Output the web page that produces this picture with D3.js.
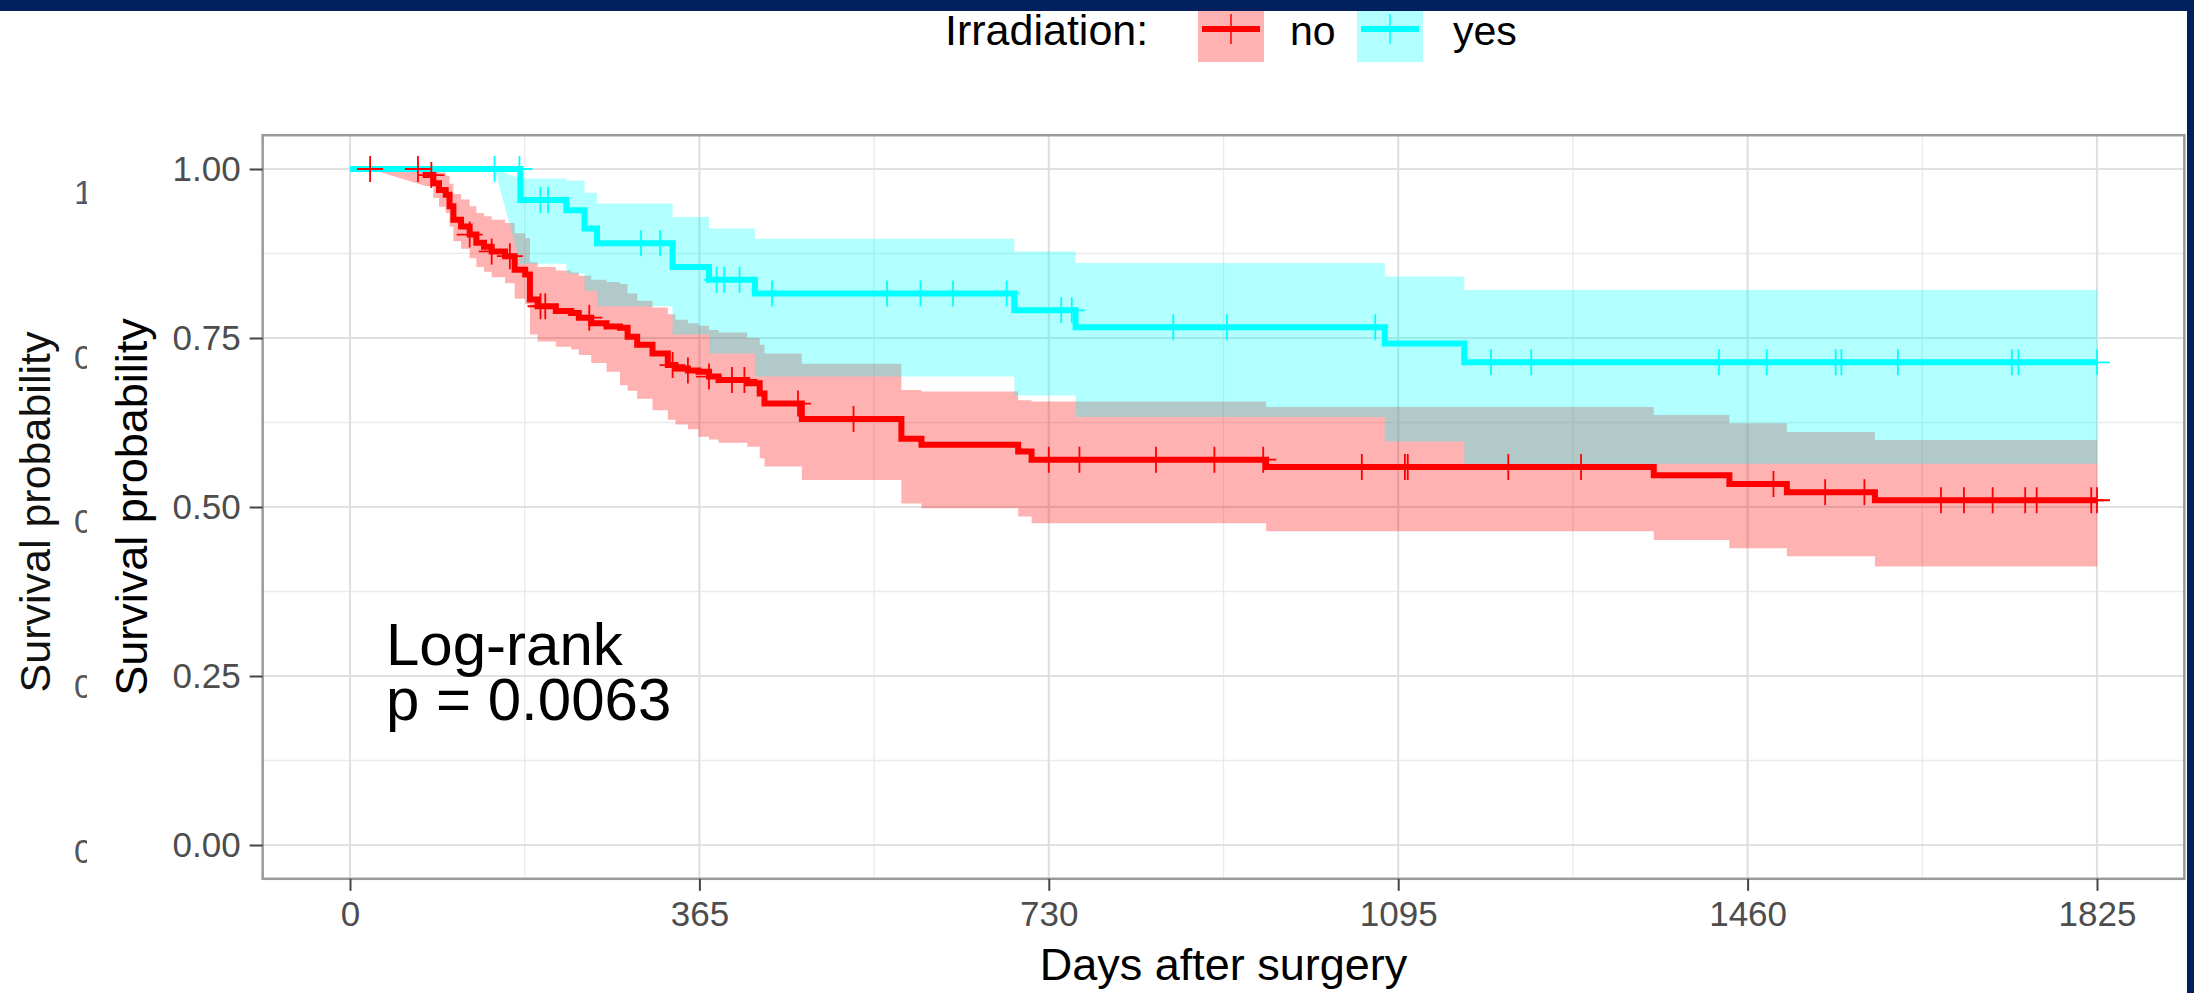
<!DOCTYPE html>
<html>
<head>
<meta charset="utf-8">
<script src="https://cdn.jsdelivr.net/npm/d3@7"></script>
<style>
  body { margin: 0; background: #fff; }
  text { font-family: "Liberation Sans", Arial, sans-serif; }
</style>
</head>
<body>
<svg id="chart" width="2194" height="993"></svg>
<script>
  "use strict";

  // tick values
  var xTicks = [0, 365, 730, 1095, 1460, 1825];
  var yTicks = [0, 0.25, 0.5, 0.75, 1];
  var groups = ["no", "yes"];

  // Irradiation = no : step times, survival, lower / upper 95% CI
  var noTime  = [0, 79, 87, 93, 100, 104, 108, 116, 125, 132, 140, 148, 162, 172, 183, 188, 196, 215, 231, 239, 252, 268, 282, 290, 300, 316, 332, 340, 353, 364, 375, 385, 415, 428, 433, 472, 576, 597, 698, 712, 957, 1362, 1441, 1501, 1593];
  var noSurv  = [1, .991, .979, .969, .962, .945, .925, .915, .903, .891, .885, .878, .871, .851, .844, .807, .797, .790, .787, .780, .772, .767, .765, .752, .740, .727, .710, .705, .702, .700, .693, .688, .683, .668, .653, .630, .601, .592, .582, .570, .559, .547, .534, .522, .510];
  var noLower = [1, .975, .957, .944, .935, .915, .893, .882, .868, .855, .848, .840, .831, .808, .800, .755, .745, .737, .733, .725, .713, .700, .680, .672, .660, .643, .629, .622, .615, .604, .600, .595, .589, .572, .560, .540, .505, .498, .486, .476, .464, .451, .439, .427, .412];
  var noUpper = [1, 1, .999, .995, .990, .978, .963, .955, .945, .935, .930, .925, .920, .905, .898, .862, .855, .850, .847, .842, .836, .833, .830, .816, .805, .795, .785, .777, .772, .768, .762, .758, .750, .740, .727, .712, .673, .671, .658, .656, .648, .636, .624, .611, .599];
  var noCensor = [21, 71, 85, 125, 148, 167, 199, 204, 250, 337, 353, 375, 399, 412, 468, 526, 730, 762, 842, 903, 954, 1057, 1102, 1105, 1210, 1286, 1487, 1541, 1582, 1662, 1686, 1716, 1750, 1762, 1819, 1825];
  var noBandStart = 21;

  // Irradiation = yes
  var yesTime  = [0, 178, 226, 245, 258, 337, 375, 423, 694, 758, 1081, 1164];
  var yesSurv  = [1, .954, .939, .912, .890, .855, .836, .816, .791, .766, .742, .714];
  var yesLower = [1, .860, .845, .820, .797, .755, .727, .693, .665, .633, .597, .564];
  var yesUpper = [1, .986, .983, .965, .949, .929, .912, .897, .878, .861, .841, .821];
  var yesCensor = [151, 177, 199, 207, 304, 324, 383, 391, 407, 441, 561, 596, 630, 686, 743, 754, 860, 916, 1071, 1192, 1234, 1430, 1480, 1552, 1558, 1617, 1736, 1743, 1825];
  var yesBandStart = 151;

  var tMax = 1825;
  var colors = { no: "#ff0000", yes: "#00ffff" };

  var series = [
    { key: "no", time: noTime, surv: noSurv, lower: noLower, upper: noUpper, censor: noCensor, start: noBandStart },
    { key: "yes", time: yesTime, surv: yesSurv, lower: yesLower, upper: yesUpper, censor: yesCensor, start: yesBandStart }
  ];

  var svg = d3.select("#chart");
  var W = 2194, H = 993;

  var x = d3.scaleLinear().domain([0, tMax]).range([350, 2097]);
  var y = d3.scaleLinear().domain([0, 1]).range([845, 169]);
  var panel = {
    left: x(-0.05 * tMax), right: x(tMax * 1.05),
    top: y(1.05), bottom: y(-0.05)
  };

  svg.append("rect").attr("width", W).attr("height", H).attr("fill", "#fff");

  // left-over strip of an older copy of the figure, cut at its right side
  svg.append("clipPath").attr("id", "ghostClip")
    .append("rect").attr("x", 0).attr("y", 0).attr("width", 87).attr("height", H);
  var ghost = svg.append("g").attr("clip-path", "url(#ghostClip)");
  var yGhost = d3.scaleLinear().domain([0, 1]).range([851, 192]);
  ghost.append("text")
    .attr("transform", "translate(50," + 512 + ") rotate(-90)")
    .attr("text-anchor", "middle")
    .attr("font-size", 43)
    .attr("fill", "#111")
    .text("Survival probability");
  ghost.selectAll("text.gtick")
    .data(yTicks)
    .enter()
    .append("text")
    .classed("gtick", true)
    .attr("x", 74)
    .attr("y", function(d) { return yGhost(d); })
    .attr("dy", "0.35em")
    .attr("font-size", 34)
    .attr("fill", function(d) { return d === 1 ? "#4a5a70" : "#555"; })
    .text(function(d) { return d3.format(".2f")(d).charAt(0); });

  // panel grid
  var grid = svg.append("g");
  var xMinor = xTicks.slice(1).map(function(d, i) { return (d + xTicks[i]) / 2; });
  var yMinor = yTicks.slice(1).map(function(d, i) { return (d + yTicks[i]) / 2; });

  grid.selectAll("line.xminor").data(xMinor).enter().append("line")
    .attr("x1", x).attr("x2", x).attr("y1", panel.top).attr("y2", panel.bottom)
    .attr("stroke", "#ebebeb").attr("stroke-width", 1.4);
  grid.selectAll("line.yminor").data(yMinor).enter().append("line")
    .attr("y1", y).attr("y2", y).attr("x1", panel.left).attr("x2", panel.right)
    .attr("stroke", "#ebebeb").attr("stroke-width", 1.4);
  grid.selectAll("line.xmajor").data(xTicks).enter().append("line")
    .attr("x1", x).attr("x2", x).attr("y1", panel.top).attr("y2", panel.bottom)
    .attr("stroke", "#e0e0e0").attr("stroke-width", 2.2);
  grid.selectAll("line.ymajor").data(yTicks).enter().append("line")
    .attr("y1", y).attr("y2", y).attr("x1", panel.left).attr("x2", panel.right)
    .attr("stroke", "#e0e0e0").attr("stroke-width", 2.2);

  svg.append("clipPath").attr("id", "panelClip")
    .append("rect")
    .attr("x", panel.left).attr("y", panel.top)
    .attr("width", panel.right - panel.left).attr("height", panel.bottom - panel.top);

  var plot = svg.append("g").attr("clip-path", "url(#panelClip)");

  // confidence bands: linear from the last censoring before the first event, then steps
  var bandPoints = function(s) {
    var pts = [{ t: s.start, lo: 1, hi: 1 }];
    for (var i = 1; i < s.time.length; i++) {
      var next = i + 1 < s.time.length ? s.time[i + 1] : tMax;
      pts.push({ t: s.time[i], lo: s.lower[i], hi: s.upper[i] });
      pts.push({ t: next, lo: s.lower[i], hi: s.upper[i] });
    }
    return pts;
  };
  var band = d3.area()
    .x(function(p) { return x(p.t); })
    .y0(function(p) { return y(p.lo); })
    .y1(function(p) { return y(p.hi); });

  plot.selectAll("path.band")
    .data(series)
    .enter()
    .append("path")
    .classed("band", true)
    .attr("d", function(s) { return band(bandPoints(s)); })
    .attr("fill", function(s) { return colors[s.key]; })
    .attr("fill-opacity", 0.3);

  // survival curves
  var stepPoints = function(s) {
    var pts = s.time.map(function(t, i) { return [t, s.surv[i]]; });
    pts.push([tMax, s.surv[s.surv.length - 1]]);
    return pts;
  };
  var line = d3.line()
    .x(function(p) { return x(p[0]); })
    .y(function(p) { return y(p[1]); })
    .curve(d3.curveStepAfter);

  plot.selectAll("path.km")
    .data(series)
    .enter()
    .append("path")
    .classed("km", true)
    .attr("d", function(s) { return line(stepPoints(s)); })
    .attr("fill", "none")
    .attr("stroke", function(s) { return colors[s.key]; })
    .attr("stroke-width", 6);

  // censor marks
  var survAt = function(s, t) {
    var i = d3.bisectRight(s.time, t) - 1;
    return s.surv[Math.max(i, 0)];
  };
  var plus = function(px, py, r) {
    return "M" + (px - r) + "," + py + "H" + (px + r) + "M" + px + "," + (py - r) + "V" + (py + r);
  };
  series.forEach(function(s) {
    plot.selectAll("path.censor-" + s.key)
      .data(s.censor)
      .enter()
      .append("path")
      .attr("class", "censor-" + s.key)
      .attr("d", function(t) { return plus(x(t), y(survAt(s, t)), 13); })
      .attr("stroke", colors[s.key])
      .attr("stroke-width", 1.8);
  });

  // panel border
  svg.append("rect")
    .attr("x", panel.left).attr("y", panel.top)
    .attr("width", panel.right - panel.left).attr("height", panel.bottom - panel.top)
    .attr("fill", "none").attr("stroke", "#9a9a9a").attr("stroke-width", 2.5);

  // axes
  var yAxis = svg.append("g")
    .attr("transform", "translate(" + panel.left + ",0)")
    .call(d3.axisLeft(y).tickValues(yTicks).tickFormat(d3.format(".2f")).tickSize(13).tickPadding(9));
  var xAxis = svg.append("g")
    .attr("transform", "translate(0," + panel.bottom + ")")
    .call(d3.axisBottom(x).tickValues(xTicks).tickFormat(d3.format("d")).tickSize(12).tickPadding(10));

  [xAxis, yAxis].forEach(function(g) {
    g.select(".domain").remove();
    g.selectAll(".tick line").attr("stroke", "#444").attr("stroke-width", 2);
    g.selectAll(".tick text")
      .attr("font-size", 35)
      .attr("font-family", "Liberation Sans, Arial, sans-serif")
      .attr("fill", "#4d4d4d");
  });

  svg.append("text")
    .attr("x", (panel.left + panel.right) / 2)
    .attr("y", 980)
    .attr("text-anchor", "middle")
    .attr("font-size", 45)
    .attr("fill", "#000")
    .text("Days after surgery");

  svg.append("text")
    .attr("transform", "translate(147," + ((panel.top + panel.bottom) / 2) + ") rotate(-90)")
    .attr("text-anchor", "middle")
    .attr("font-size", 45)
    .attr("fill", "#000")
    .text("Survival probability");

  // log-rank annotation
  var note = svg.append("text")
    .attr("x", 386)
    .attr("y", 665)
    .attr("font-size", 60)
    .attr("fill", "#000");
  note.append("tspan").attr("x", 386).text("Log-rank");
  note.append("tspan").attr("x", 386).attr("dy", 55).text("p = 0.0063");

  // legend
  var legend = svg.append("g");
  legend.append("text")
    .attr("x", 945).attr("y", 45)
    .attr("font-size", 43)
    .attr("fill", "#000")
    .text("Irradiation:");

  var keyX = { no: 1198, yes: 1357 };
  var labelX = { no: 1290, yes: 1453 };
  var keys = legend.selectAll("g.key")
    .data(groups)
    .enter()
    .append("g")
    .classed("key", true)
    .attr("transform", function(k) { return "translate(" + keyX[k] + ",0)"; });

  keys.append("rect")
    .attr("x", 0).attr("y", -4).attr("width", 66).attr("height", 66)
    .attr("fill", function(k) { return colors[k]; })
    .attr("fill-opacity", 0.3);
  keys.append("line")
    .attr("x1", 4).attr("x2", 62).attr("y1", 29).attr("y2", 29)
    .attr("stroke", function(k) { return colors[k]; })
    .attr("stroke-width", 6);
  keys.append("path")
    .attr("d", plus(33, 29, 15))
    .attr("stroke", function(k) { return colors[k]; })
    .attr("stroke-width", 1.5);
  keys.append("text")
    .attr("x", function(k) { return labelX[k] - keyX[k]; })
    .attr("y", 45)
    .attr("font-size", 41)
    .attr("fill", "#000")
    .text(function(k) { return k; });

  // slide frame
  svg.append("rect").attr("x", 0).attr("y", 0).attr("width", W).attr("height", 11).attr("fill", "#03205e");
  svg.append("rect").attr("x", 2187).attr("y", 0).attr("width", W - 2187).attr("height", H).attr("fill", "#03205e");
</script>
</body>
</html>
